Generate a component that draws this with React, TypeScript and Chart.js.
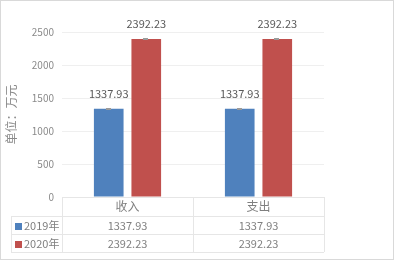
import React, { useEffect, useRef } from "react";
import { Chart, registerables } from "chart.js";

Chart.register(...registerables);

const categories = ["收入", "支出"];
const seriesNames = ["2019年", "2020年"];
const values2019 = [1337.93, 1337.93];
const values2020 = [2392.23, 2392.23];
const seriesColors = ["#4f81bd", "#c0504d"];
const yMin = 0;
const yMax = 2500;
const yStep = 500;
const yTitle = "单位：万元";

const FONT = "'Noto Sans CJK SC', 'Noto Sans', sans-serif";
const LINE = "#e6e6e6";
const TEXT = "#7f7f7f";

const dataLabelPlugin = {
  id: "dataLabels",
  afterDatasetsDraw(chart: any) {
    const ctx = chart.ctx;
    ctx.save();
    chart.data.datasets.forEach((ds: any, di: number) => {
      const meta = chart.getDatasetMeta(di);
      meta.data.forEach((bar: any, i: number) => {
        const v = ds.data[i];
        ctx.fillStyle = "#9a9a9a";
        ctx.fillRect(Math.round(bar.x) - 3, Math.round(bar.y) - 1, 5, 2);
        ctx.fillStyle = "#595959";
        ctx.font = `11px ${FONT}`;
        ctx.textAlign = "center";
        ctx.textBaseline = "middle";
        ctx.fillText(v.toFixed(2), bar.x, bar.y - 15);
      });
    });
    ctx.restore();
  },
};

const tablePlugin = {
  id: "dataTable",
  afterDraw(chart: any) {
    const ctx = chart.ctx;
    const area = chart.chartArea;
    const xs = chart.scales.x;
    const left = area.left;
    const right = area.right;
    const top = area.bottom;
    const rowH = 18;
    const headH = 19;
    const r1 = top + headH;
    const r2 = r1 + rowH;
    const r3 = r2 + rowH;
    const legLeft = 11;
    ctx.save();
    ctx.strokeStyle = LINE;
    ctx.lineWidth = 1;
    const hline = (x1: number, x2: number, y: number) => {
      ctx.beginPath();
      ctx.moveTo(x1, Math.round(y) + 0.5);
      ctx.lineTo(x2, Math.round(y) + 0.5);
      ctx.stroke();
    };
    const vline = (x: number, y1: number, y2: number) => {
      ctx.beginPath();
      ctx.moveTo(Math.round(x) + 0.5, y1);
      ctx.lineTo(Math.round(x) + 0.5, y2);
      ctx.stroke();
    };
    hline(left, right, top);
    hline(legLeft, right, r1);
    hline(legLeft, right, r2);
    hline(legLeft, right, r3);
    vline(legLeft, r1, r3);
    vline(left, top, r3);
    const n = categories.length;
    const colW = (right - left) / n;
    for (let i = 1; i <= n; i++) vline(left + colW * i, top, r3);

    ctx.strokeStyle = "#d9d9d9";
    ctx.strokeRect(0.5, 0.5, chart.width - 1, chart.height - 1);

    const rows = [values2019, values2020];
    ctx.font = `11px ${FONT}`;
    ctx.textBaseline = "middle";
    rows.forEach((vals, ri) => {
      const cy = r1 + rowH * ri + rowH / 2 + 0.5;
      ctx.fillStyle = seriesColors[ri];
      ctx.fillRect(15, Math.round(cy) - 3, 7, 7);
      ctx.fillStyle = TEXT;
      ctx.textAlign = "left";
      ctx.fillText(seriesNames[ri], 24, cy);
      ctx.textAlign = "center";
      vals.forEach((v, ci) => {
        ctx.fillText(v.toFixed(2), xs.getPixelForValue(ci), cy);
      });
    });

    ctx.save();
    ctx.translate(11, (area.top + area.bottom) / 2);
    ctx.rotate(-Math.PI / 2);
    ctx.font = `12px ${FONT}`;
    ctx.fillStyle = "#8a8a8a";
    ctx.textAlign = "center";
    ctx.textBaseline = "middle";
    ctx.fillText(yTitle, 0, 0);
    ctx.restore();
    ctx.restore();
  },
};

export default function App() {
  const ref = useRef<HTMLCanvasElement | null>(null);
  useEffect(() => {
    document.body.style.margin = "0";
    const canvas = ref.current!;
    const chart = new Chart(canvas, {
      type: "bar",
      data: {
        labels: categories,
        datasets: [
          {
            label: seriesNames[0],
            data: values2019,
            backgroundColor: seriesColors[0],
            barPercentage: 0.79,
            categoryPercentage: 0.573,
          },
          {
            label: seriesNames[1],
            data: values2020,
            backgroundColor: seriesColors[1],
            barPercentage: 0.79,
            categoryPercentage: 0.573,
          },
        ],
      },
      options: {
        responsive: false,
        animation: false,
        devicePixelRatio: 1,
        layout: { padding: { top: 32, right: 70, bottom: 0, left: 0 } },
        plugins: {
          legend: { display: false },
          tooltip: { enabled: false },
          title: { display: false },
        },
        scales: {
          y: {
            min: yMin,
            max: yMax,
            ticks: {
              stepSize: yStep,
              color: "#8a8a8a",
              font: { family: FONT, size: 10 },
              padding: 8,
              callback: (v: any) => String(v),
            },
            grid: { color: "#efefef", drawTicks: false },
            border: { display: false },
            afterFit(s: any) {
              s.width = 62;
            },
          },
          x: {
            ticks: {
              color: TEXT,
              font: { family: FONT, size: 12 },
              padding: 2,
            },
            grid: { display: false, drawTicks: false },
            border: { display: false },
            afterFit(s: any) {
              s.height = 63;
            },
          },
        },
      },
      plugins: [dataLabelPlugin, tablePlugin],
    } as any);
    return () => chart.destroy();
  }, []);
  return (
    <div style={{ width: 394, height: 260 }}>
      <canvas ref={ref} width={394} height={260} style={{ display: "block" }} />
    </div>
  );
}
